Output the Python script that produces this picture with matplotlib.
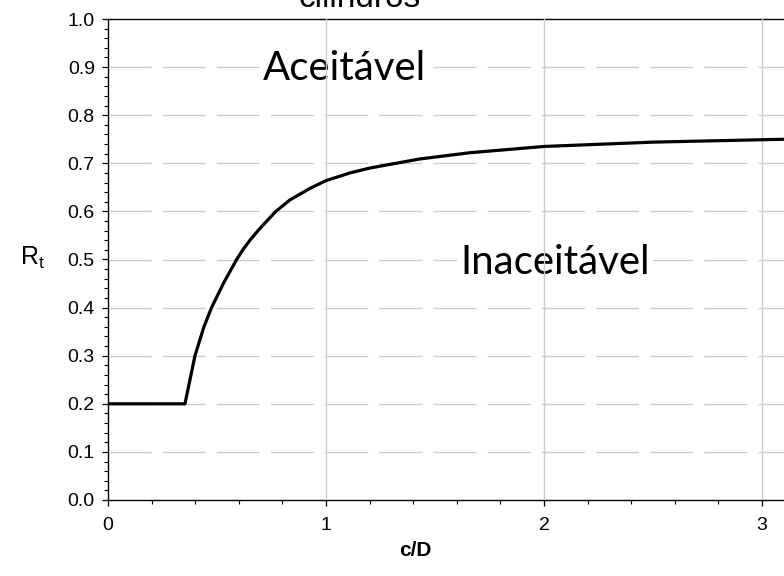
"""
Rt versus c/D acceptability curve (Aceitavel / Inaceitavel regions).
"""

import matplotlib
matplotlib.use("Agg")
import matplotlib.pyplot as plt
from matplotlib.ticker import MultipleLocator, FormatStrFormatter

# Curve
cd_values = [0.0, 0.353, 0.399, 0.440, 0.475, 0.529, 0.590, 0.620, 0.651,
             0.690, 0.710, 0.743, 0.770, 0.835, 0.927, 1.0, 1.11, 1.20,
             1.43, 1.66, 2.0, 2.5, 3.0, 3.2]
rt_values = [0.2, 0.2, 0.3, 0.360, 0.4, 0.45, 0.5, 0.521, 0.540,
             0.561, 0.571, 0.587, 0.6, 0.624, 0.648, 0.664, 0.680, 0.690,
             0.709, 0.722, 0.735, 0.744, 0.749, 0.751]

x_major = [0, 1, 2, 3]
y_grid = [0.1, 0.2, 0.3, 0.4, 0.5, 0.6, 0.7, 0.8, 0.9]

W, H = 784, 576
plt.rcParams["font.family"] = ["Liberation Sans", "DejaVu Sans"]
fig = plt.figure(figsize=(W / 100, H / 100), dpi=100, facecolor="white")

# axes runs past the right edge of the picture, as in the cropped original
x_max = 3.3
ax = fig.add_axes([108 / W, 1 - 500 / H, x_max * 218 / W, 481 / H])
ax.set_xlim(0, x_max)
ax.set_ylim(0, 1.0)

grid_color = "#cccccc"
for yv in y_grid:
    ax.axhline(yv, color=grid_color, linewidth=1.0,
               linestyle=(0, (31, 8)), zorder=1)
for xv in x_major[1:]:
    ax.axvline(xv, color=grid_color, linewidth=1.0, zorder=3)

ax.plot(cd_values, rt_values, color="black", linewidth=2.3,
        solid_joinstyle="round", zorder=4)

label_font = ["Lato", "DejaVu Sans"]
box = dict(facecolor="white", edgecolor="none", pad=2)
ax.text(1.087, 0.898, "Aceitável", fontsize=29, family=label_font,
        ha="center", va="center", bbox=box, zorder=2)
ax.text(2.05, 0.493, "Inaceitável", fontsize=29, family=label_font,
        ha="center", va="center", bbox=box, zorder=2)

# ticks
ax.xaxis.set_major_locator(MultipleLocator(1))
ax.xaxis.set_minor_locator(MultipleLocator(0.2))
ax.yaxis.set_major_locator(MultipleLocator(0.1))
ax.yaxis.set_minor_locator(MultipleLocator(0.02))
ax.yaxis.set_major_formatter(FormatStrFormatter("%.1f"))
ax.tick_params(which="major", direction="out", length=4.5, width=0.9,
               labelsize=14, pad=5, top=False, right=False)
ax.tick_params(which="minor", direction="out", length=3, width=0.8,
               top=False, right=False)
ax.tick_params(axis="x", which="major", pad=8)

for side in ["left", "bottom", "top"]:
    ax.spines[side].set_linewidth(1.0)
ax.spines["right"].set_visible(False)

# axis labels and (cut-off) title placed in figure pixels
fig.text(33 / W, 1 - 258 / H, "R$_\\mathregular{t}$", fontsize=18,
         ha="center", va="center")
fig.text(415 / W, 1 - 551 / H, "c/D", fontsize=15, fontweight="bold",
         ha="center", va="center")
fig.text(360 / W, 1 - 7 / H, "cilindros", fontsize=24,
         ha="center", va="baseline")

fig.savefig("out.png", dpi=100, facecolor="white")
